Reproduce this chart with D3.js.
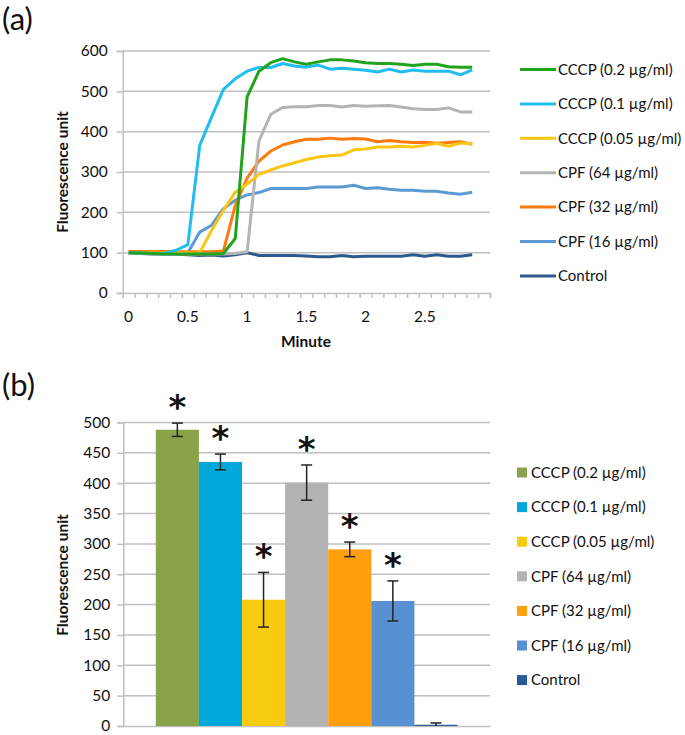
<!DOCTYPE html>
<html><head><meta charset="utf-8">
<script src="https://cdn.jsdelivr.net/npm/d3@7"></script>
<style>body{margin:0;background:#fff}svg{display:block}</style>
</head><body>
<script>
// ---------- DATA ----------
const seriesNames = ["CCCP (0.2 µg/ml)","CCCP (0.1 µg/ml)","CCCP (0.05 µg/ml)","CPF (64 µg/ml)","CPF (32 µg/ml)","CPF (16 µg/ml)","Control"];
const minutes = [0,0.1,0.2,0.3,0.4,0.5,0.6,0.7,0.8,0.9,1.0,1.1,1.2,1.3,1.4,1.5,1.6,1.7,1.8,1.9,2.0,2.1,2.2,2.3,2.4,2.5,2.6,2.7,2.8,2.9];
const minuteLabels = ["0","0.5","1","1.5","2","2.5"];
const cccp02  = [100,99,98,97,97,97,97,97,98,135,486,550,571,581,573,567,573,578,578,575,571,569,569,567,564,567,567,561,560,560];
const cccp01  = [100,99,98,98,106,120,366,436,505,531,550,559,559,569,563,560,565,555,557,555,552,548,555,548,553,550,550,550,541,553];
const cccp005 = [100,100,99,99,99,99,100,155,205,250,270,294,305,315,323,331,337,340,342,355,357,362,362,364,362,366,371,364,372,370];
const cpf64   = [100,99,98,97,97,97,97,97,97,98,102,377,443,460,462,462,465,465,461,465,463,464,465,461,457,455,455,459,449,449];
const cpf32   = [103,103,103,103,102,102,102,102,104,217,285,327,352,367,375,381,381,384,381,383,382,375,378,375,373,374,371,373,375,369];
const cpf16   = [100,99,98,97,97,100,151,168,209,230,243,249,259,259,259,259,263,263,263,267,259,261,257,255,255,252,252,248,245,250];
const control = [100,98,97,97,96,95,93,94,92,95,100,93,93,93,93,92,90,90,93,90,91,91,91,91,95,91,95,91,91,95];
const lineSeries = [cccp02,cccp01,cccp005,cpf64,cpf32,cpf16,control];
const yTicksA = [0,100,200,300,400,500,600];

const barMeans  = [488,435,208,401,291,206,2];
const barErrors = [11,13,45,29,12,33,3];
const significant = [true,true,true,true,true,true,false];
const yTicksB = [0,50,100,150,200,250,300,350,400,450,500];

const lineColors = ["#22a31e","#1fbdf0","#fac515","#b4b4b4","#ff7a0c","#5b9bd5","#2d5a8c"];
const barColors  = ["#8aa34b","#00a9d9","#f6cb10","#b3b3b3","#ff9f0c","#5891d2","#2c5896"];

// ---------- SVG ----------
const W=685,H=735;
const svg=d3.select("body").append("svg").attr("width",W).attr("height",H);
const FONT="Lato, 'Open Sans', sans-serif";
const grid="#c0c0c0";
const TXT="#111";

// ===== Panel (a) =====
const xA=d3.scaleLinear().domain([-0.5,30.5]).range([122.7,490]);
const yA=d3.scaleLinear().domain([0,600]).range([293,51]);
const gA=svg.append("g");
svg.append("text").attr("x",2).attr("y",30).attr("font-family",FONT).attr("font-size",31).attr("fill",TXT).text("(a)");

gA.selectAll("line.grid").data(yTicksA.slice(1)).join("line")
  .attr("x1",xA(-0.5)).attr("x2",xA(30.5)).attr("y1",d=>yA(d)).attr("y2",d=>yA(d))
  .attr("stroke",grid).attr("stroke-width",1.5);
const axAy=gA.append("g").attr("transform",`translate(${xA(-0.5)},0)`)
  .call(d3.axisLeft(yA).tickValues(yTicksA).tickSize(6).tickPadding(9));
const axAx=gA.append("g").attr("transform",`translate(0,${yA(0)})`)
  .call(d3.axisBottom(xA).tickValues(d3.range(-0.5,31,1)).tickSize(5).tickFormat(""));
[axAy,axAx].forEach(a=>{a.select(".domain").attr("stroke",grid).attr("stroke-width",1.5);
  a.selectAll(".tick line").attr("stroke",grid).attr("stroke-width",1.5);
  a.selectAll("text").attr("font-family",FONT).attr("font-size",15.5).attr("fill",TXT);});
// x labels
gA.selectAll("text.xl").data(minuteLabels).join("text")
  .attr("x",d=>xA(minutes.indexOf(+d))).attr("y",322).attr("text-anchor","middle")
  .attr("font-family",FONT).attr("font-size",15.5).attr("fill",TXT).text(d=>d);
gA.append("text").attr("x",306).attr("y",347).attr("text-anchor","middle")
  .attr("font-family",FONT).attr("font-weight","bold").attr("font-size",15.5).attr("fill",TXT).text("Minute");
gA.append("text").attr("transform","translate(68,172) rotate(-90)").attr("text-anchor","middle")
  .attr("font-family",FONT).attr("font-weight","bold").attr("font-size",15.5).attr("fill",TXT).text("Fluorescence unit");

const line=d3.line().x((d,i)=>xA(i)).y(d=>yA(d));
lineSeries.map((s,k)=>({s,k})).reverse().forEach(({s,k})=>{
  gA.append("path").attr("d",line(s)).attr("fill","none").attr("stroke",lineColors[k])
    .attr("stroke-width",3).attr("stroke-linejoin","round");
});
// legend a
const legA=svg.append("g");
seriesNames.forEach((n,k)=>{
  const y=69.5+k*34.4;
  legA.append("line").attr("x1",520).attr("x2",556).attr("y1",y).attr("y2",y).attr("stroke",lineColors[k]).attr("stroke-width",3);
  legA.append("text").attr("x",558).attr("y",y).attr("dy","0.35em").attr("font-family",FONT).attr("font-size",15).attr("fill",TXT).text(n);
});

// ===== Panel (b) =====
const yB=d3.scaleLinear().domain([0,500]).range([726,422.5]);
const xB=d3.scaleBand().domain(seriesNames).range([123.3,490]).paddingInner(0).paddingOuter(0.754);
const gB=svg.append("g");
svg.append("text").attr("x",2).attr("y",396).attr("font-family",FONT).attr("font-size",31).attr("fill",TXT).text("(b)");
gB.selectAll("line.grid").data(yTicksB.slice(1)).join("line")
  .attr("x1",123.3).attr("x2",490).attr("y1",d=>yB(d)).attr("y2",d=>yB(d))
  .attr("stroke",grid).attr("stroke-width",1.5);
const axBy=gB.append("g").attr("transform","translate(123.3,0)")
  .call(d3.axisLeft(yB).tickValues(yTicksB).tickSize(6).tickPadding(7));
const axBx=gB.append("g").attr("transform",`translate(0,${yB(0)})`)
  .call(d3.axisBottom(d3.scaleLinear().range([123.3,490])).tickValues([]).tickSizeOuter(0));
[axBy,axBx].forEach(a=>{a.select(".domain").attr("stroke",grid).attr("stroke-width",1.5);
  a.selectAll(".tick line").attr("stroke",grid).attr("stroke-width",1.5);
  a.selectAll("text").attr("font-family",FONT).attr("font-size",15.5).attr("fill",TXT);});
gB.append("text").attr("transform","translate(68,575) rotate(-90)").attr("text-anchor","middle")
  .attr("font-family",FONT).attr("font-weight","bold").attr("font-size",15.5).attr("fill",TXT).text("Fluorescence unit");

gB.selectAll("rect.bar").data(barMeans).join("rect")
  .attr("x",(d,i)=>xB(seriesNames[i])).attr("width",xB.bandwidth())
  .attr("y",d=>yB(d)).attr("height",d=>yB(0)-yB(d)).attr("fill",(d,i)=>barColors[i]);
barMeans.forEach((m,i)=>{
  const cx=xB(seriesNames[i])+xB.bandwidth()/2, e=barErrors[i];
  const g=gB.append("g").attr("stroke","#222").attr("stroke-width",1.5);
  g.append("line").attr("x1",cx).attr("x2",cx).attr("y1",yB(m+e)).attr("y2",yB(Math.max(0,m-e)));
  g.append("line").attr("x1",cx-5.5).attr("x2",cx+5.5).attr("y1",yB(m+e)).attr("y2",yB(m+e));
  if(m-e>0) g.append("line").attr("x1",cx-5.5).attr("x2",cx+5.5).attr("y1",yB(m-e)).attr("y2",yB(m-e));
  if(significant[i]) gB.append("text").attr("x",cx).attr("y",yB(m+e)-4).attr("text-anchor","middle")
    .attr("font-family","'DejaVu Sans', sans-serif").attr("font-weight","bold").attr("font-size",34).attr("fill","#111").text("*");
});
// legend b
const legB=svg.append("g");
seriesNames.forEach((n,k)=>{
  const y=472.5+k*34.6;
  legB.append("rect").attr("x",517).attr("y",y-5).attr("width",10).attr("height",10).attr("fill",barColors[k]);
  legB.append("text").attr("x",531).attr("y",y).attr("dy","0.35em").attr("font-family",FONT).attr("font-size",15).attr("fill",TXT).text(n);
});
</script>
</body></html>
